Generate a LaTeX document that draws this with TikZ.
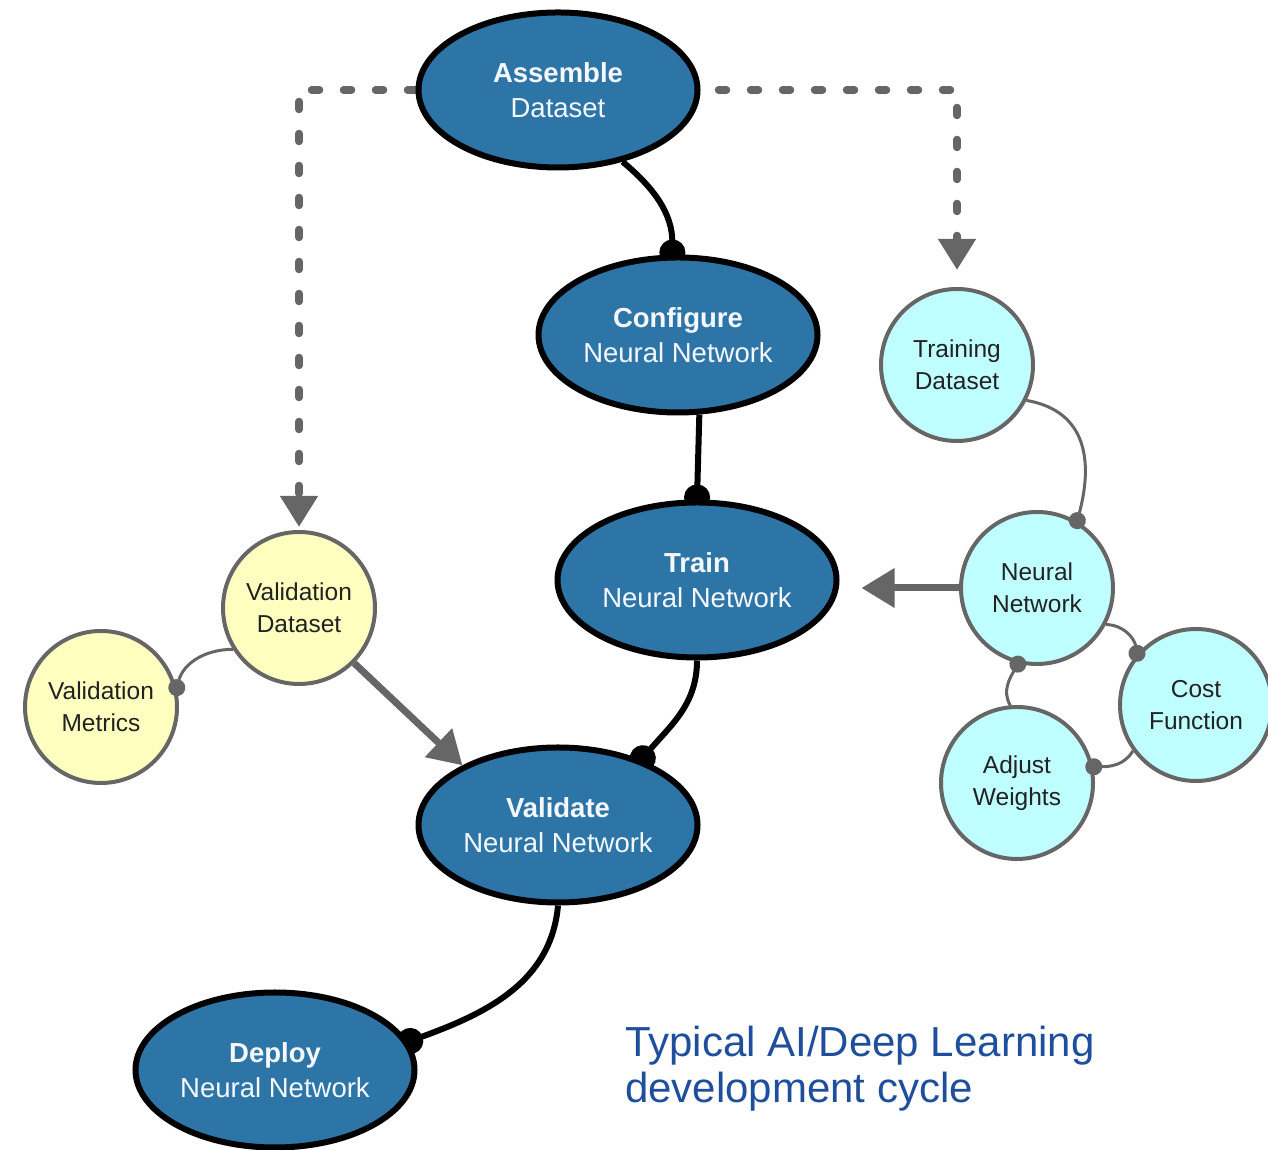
\documentclass[tikz,border=0pt]{standalone}
\usepackage{fontspec}
\setmainfont{Liberation Sans}
\usetikzlibrary{shapes.geometric,arrows.meta}
\pgfdeclarelayer{bg}
\pgfsetlayers{bg,main}
\definecolor{stepblue}{RGB}{46,117,167}
\definecolor{ccyan}{RGB}{192,255,255}
\definecolor{cyellow}{RGB}{255,255,192}
\definecolor{cgray}{RGB}{102,102,102}
\definecolor{ctext}{RGB}{34,34,34}
\definecolor{captblue}{RGB}{31,79,156}
\definecolor{etext}{RGB}{245,248,252}
\begin{document}
\begin{tikzpicture}[x=1pt,y=1pt,
  bigell/.style={ellipse, draw=black, line width=6pt, fill=stepblue, minimum width=279pt, minimum height=155pt, inner sep=0pt, text=etext, align=center, font=\fontsize{27.5}{35}\selectfont},
  smallc/.style={circle, draw=cgray, line width=4pt, minimum size=152pt, inner sep=0pt, text=ctext, align=center, font=\fontsize{24.5}{32}\selectfont},
  cyanc/.style={smallc, fill=ccyan},
  yellc/.style={smallc, fill=cyellow},
  blackconn/.style={draw=black, line width=6pt, -{Circle[length=26pt]}, shorten >=-11pt},
  dashconn/.style={draw=cgray, line width=7.5pt, line cap=round, dash pattern=on 8pt off 24pt, -{Triangle[length=31pt,width=36pt]}},
  thickarrow/.style={draw=cgray, line width=7pt, -{Triangle[length=33pt,width=38pt]}},
  thinconn/.style={draw=cgray, line width=3pt, -{Circle[length=17pt]}, shorten >=-8pt},
]
\useasboundingbox (0,0) rectangle (1268,1150);

\node[bigell] (Assemble) at (558,1060) {\textbf{Assemble}\\Dataset};
\node[bigell] (Configure) at (678,815) {\textbf{Configure}\\Neural Network};
\node[bigell] (Train) at (697,570) {\textbf{Train}\\Neural Network};
\node[bigell] (Validate) at (558,325) {\textbf{Validate}\\Neural Network};
\node[bigell] (Deploy) at (275,80) {\textbf{Deploy}\\Neural Network};

\node[cyanc] (TD) at (957,785) {Training\\Dataset};
\node[cyanc] (NN) at (1037,562) {Neural\\Network};
\node[cyanc] (CF) at (1196,445) {Cost\\Function};
\node[cyanc] (AW) at (1017,367) {Adjust\\Weights};
\node[yellc] (VD) at (299,542) {Validation\\Dataset};
\node[yellc] (VM) at (101,443) {Validation\\Metrics};

\node[anchor=north west, inner sep=0pt, align=left, text=captblue, font=\fontsize{42}{46}\selectfont] (caption) at (625,124) {Typical AI/Deep Learning\\development cycle};

\begin{pgfonlayer}{bg}
  \draw[blackconn] (Assemble.-48) to[out=-40, in=90] (Configure.94);
  \draw[blackconn] (Configure.-75) -- (Train.north);
  \draw[blackconn] (Train.south) to[out=-90, in=50] (Validate.38);
  \draw[blackconn] (Validate.south) to[out=-95, in=20] (Deploy.12);
  \draw[dashconn, shorten >=3pt] (Assemble.west) -| (VD.north);
  \draw[dashconn, shorten >=17pt, shorten <=18pt] (Assemble.east) -| (TD.north);
\end{pgfonlayer}

\draw[thickarrow, shorten >=22pt] (NN.west) -- (NN.west -| Train.east);
\draw[thickarrow] (VD.-45) -- (Validate.148);

\draw[thinconn] (TD.-27) to[out=-10, in=75, looseness=1.2] (NN.59);
\draw[thinconn] (NN.-28) to[out=0, in=100] (CF.139);
\draw[thinconn] (AW.95) to[out=120, in=240] (NN.-104);
\draw[thinconn] (CF.216) to[out=240, in=0] (AW.12);
\draw[thinconn] (VD.212) to[out=180, in=75] (VM.14);
\end{tikzpicture}
\end{document}
